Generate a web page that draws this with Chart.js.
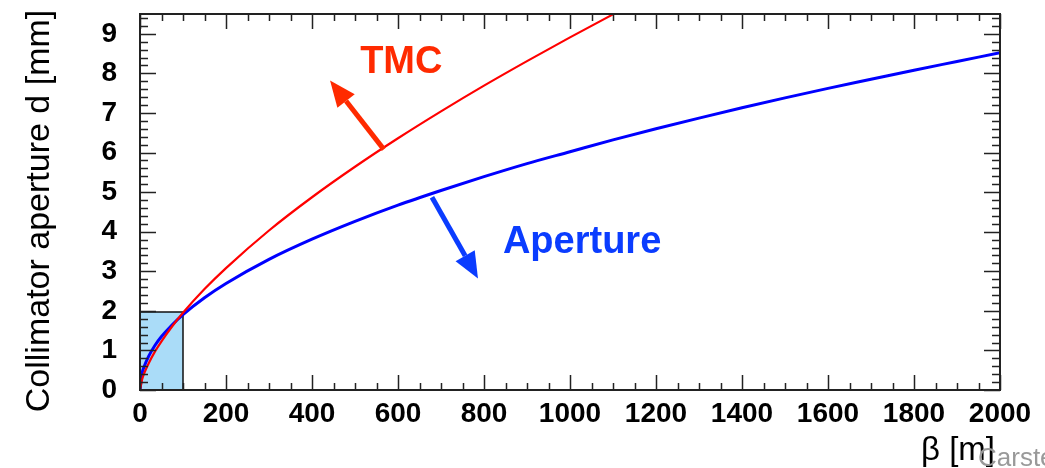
<!DOCTYPE html>
<html>
<head>
<meta charset="utf-8">
<script src="https://cdn.jsdelivr.net/npm/chart.js@4.4.1/dist/chart.umd.min.js"></script>
<style>
  html, body { margin: 0; padding: 0; background: #fff; }
  #wrap { width: 1045px; height: 468px; }
</style>
</head>
<body>
<div id="wrap"><canvas id="myChart" width="1045" height="468"></canvas></div>
<script>
// beta [m] sample points and curves
var betaTMC = [0, 5, 10, 20, 35, 50, 75, 100, 150, 200, 300, 400, 500, 600, 700, 800, 900, 1000, 1100, 1200];
var dTMC    = [0, 0.27, 0.43, 0.67, 0.975, 1.23, 1.61, 1.95, 2.55, 3.08, 4.03, 4.87, 5.64, 6.36, 7.04, 7.69, 8.31, 8.91, 9.49, 10.05];

var betaAperture = [0, 5, 10, 20, 35, 50, 75, 100, 150, 200, 300, 400, 500, 600, 700, 800, 900, 1000,
                    1100, 1200, 1300, 1400, 1500, 1600, 1700, 1800, 1900, 2000];
var dAperture    = [0, 0.43, 0.60, 0.85, 1.13, 1.35, 1.65, 1.905, 2.33, 2.69, 3.30, 3.81, 4.26, 4.67, 5.04, 5.39, 5.72, 6.02,
                    6.32, 6.60, 6.87, 7.13, 7.38, 7.62, 7.85, 8.08, 8.30, 8.52];

// shaded box (beta 0..100, d 0..1.97)
var boxBeta = [0, 100, 100];
var boxD    = [1.97, 1.97, 0];

var xTicks = [0, 200, 400, 600, 800, 1000, 1200, 1400, 1600, 1800, 2000];
var yTicks = [0, 1, 2, 3, 4, 5, 6, 7, 8, 9];

function toPoints(xs, ys) {
    return xs.map(function (x, i) { return { x: x, y: ys[i] }; });
}

var inkColor = "#222";

// frame, inward ticks on all four sides, arrows and labels
var decorPlugin = {
    id: "decor",
    afterDatasetsDraw: function (chart) {
        var ctx = chart.ctx;
        var area = chart.chartArea;
        var xs = chart.scales.x, ys = chart.scales.y;
        ctx.save();
        ctx.strokeStyle = inkColor;
        ctx.lineWidth = 1.5;
        ctx.beginPath();
        for (var b = 0; b <= 2000; b += 50) {
            var px = Math.round(xs.getPixelForValue(b)) + 0.5;
            var len = (b % 200 === 0) ? 15 : 7;
            ctx.moveTo(px, area.bottom); ctx.lineTo(px, area.bottom - len);
            ctx.moveTo(px, area.top); ctx.lineTo(px, area.top + len);
        }
        for (var k = 0; k <= 47; k++) {
            var v = k * 0.2;
            var py = Math.round(ys.getPixelForValue(v)) + 0.5;
            var ylen = (k % 5 === 0) ? 16 : 8;
            ctx.moveTo(area.left, py); ctx.lineTo(area.left + ylen, py);
            ctx.moveTo(area.right, py); ctx.lineTo(area.right - ylen, py);
        }
        ctx.stroke();
        ctx.lineWidth = 2;
        ctx.strokeRect(area.left, area.top, area.right - area.left, area.bottom - area.top);

        function arrow(b0, d0, b1, d1, color) {
            var x0 = xs.getPixelForValue(b0), y0 = ys.getPixelForValue(d0);
            var x1 = xs.getPixelForValue(b1), y1 = ys.getPixelForValue(d1);
            var ang = Math.atan2(y1 - y0, x1 - x0);
            var head = 26, half = 11;
            var bx = x1 - head * Math.cos(ang), by = y1 - head * Math.sin(ang);
            ctx.strokeStyle = color;
            ctx.fillStyle = color;
            ctx.lineWidth = 5;
            ctx.beginPath();
            ctx.moveTo(x0, y0); ctx.lineTo(bx, by);
            ctx.stroke();
            ctx.beginPath();
            ctx.moveTo(x1, y1);
            ctx.lineTo(bx + half * Math.sin(ang), by - half * Math.cos(ang));
            ctx.lineTo(bx - half * Math.sin(ang), by + half * Math.cos(ang));
            ctx.closePath();
            ctx.fill();
        }
        arrow(567, 6.08, 442, 7.82, "#ff2a00");
        arrow(679, 4.87, 786, 2.82, "#0a3cff");

        ctx.textBaseline = "alphabetic";
        ctx.textAlign = "left";
        ctx.font = "bold 38px 'Liberation Sans', Arial, sans-serif";
        ctx.fillStyle = "#ff2a00";
        ctx.fillText("TMC", xs.getPixelForValue(512), ys.getPixelForValue(8.0));
        ctx.fillStyle = "#0a3cff";
        ctx.fillText("Aperture", xs.getPixelForValue(844), ys.getPixelForValue(3.46));

        // axis titles
        ctx.fillStyle = "#000";
        ctx.font = "34px 'Liberation Sans', Arial, sans-serif";
        ctx.save();
        ctx.translate(40, 211);
        ctx.rotate(-Math.PI / 2);
        ctx.textAlign = "center";
        ctx.textBaseline = "middle";
        ctx.fillText("Collimator aperture d [mm]", 0, 0);
        ctx.restore();
        ctx.textAlign = "right";
        ctx.font = "33px 'Liberation Sans', Arial, sans-serif";
        ctx.fillText("\u03b2 [m]", 995, 460);
        ctx.textAlign = "left";
        ctx.fillStyle = "#999";
        ctx.font = "26px 'Liberation Sans', Arial, sans-serif";
        ctx.fillText("Carsten", 978, 466);
        ctx.restore();
    }
};

var tickFont = { family: "'Liberation Sans', Arial, sans-serif", size: 28, weight: "bold" };

new Chart("myChart", {
    type: "line",
    data: {
        datasets: [{
            label: "TMC",
            data: toPoints(betaTMC, dTMC),
            borderColor: "#ff0000",
            borderWidth: 2.2,
            pointRadius: 0,
            fill: false,
            cubicInterpolationMode: "monotone"
        }, {
            label: "Aperture",
            data: toPoints(betaAperture, dAperture),
            borderColor: "#0000ff",
            borderWidth: 3,
            pointRadius: 0,
            fill: false,
            cubicInterpolationMode: "monotone"
        }, {
            label: "box",
            data: toPoints(boxBeta, boxD),
            borderColor: "#111",
            borderWidth: 1.5,
            backgroundColor: "#aadcf8",
            pointRadius: 0,
            fill: "origin",
            tension: 0
        }]
    },
    options: {
        responsive: false,
        animation: false,
        layout: { padding: { left: 0, top: 14, right: 45, bottom: 0 } },
        plugins: {
            legend: { display: false },
            tooltip: { enabled: false }
        },
        scales: {
            x: {
                type: "linear",
                min: 0,
                max: 2000,
                afterFit: function (scale) {
                    scale.height = 78;
                    scale.paddingLeft = 0;
                    scale.paddingRight = 0;
                },
                afterBuildTicks: function (scale) {
                    scale.ticks = xTicks.map(function (v) { return { value: v }; });
                },
                grid: { display: false, drawTicks: false },
                border: { display: false },
                ticks: {
                    padding: 7,
                    color: "#000",
                    maxRotation: 0,
                    font: tickFont,
                    callback: function (v) { return String(v); }
                }
            },
            y: {
                type: "linear",
                min: 0,
                max: 9.5,
                afterFit: function (scale) {
                    scale.width = 140;
                    scale.paddingTop = 0;
                    scale.paddingBottom = 0;
                },
                afterBuildTicks: function (scale) {
                    scale.ticks = yTicks.map(function (v) { return { value: v }; });
                },
                grid: { display: false, drawTicks: false },
                border: { display: false },
                ticks: {
                    padding: 23,
                    color: "#000",
                    font: tickFont,
                    callback: function (v) { return String(v); }
                }
            }
        }
    },
    plugins: [decorPlugin]
});
</script>
</body>
</html>
